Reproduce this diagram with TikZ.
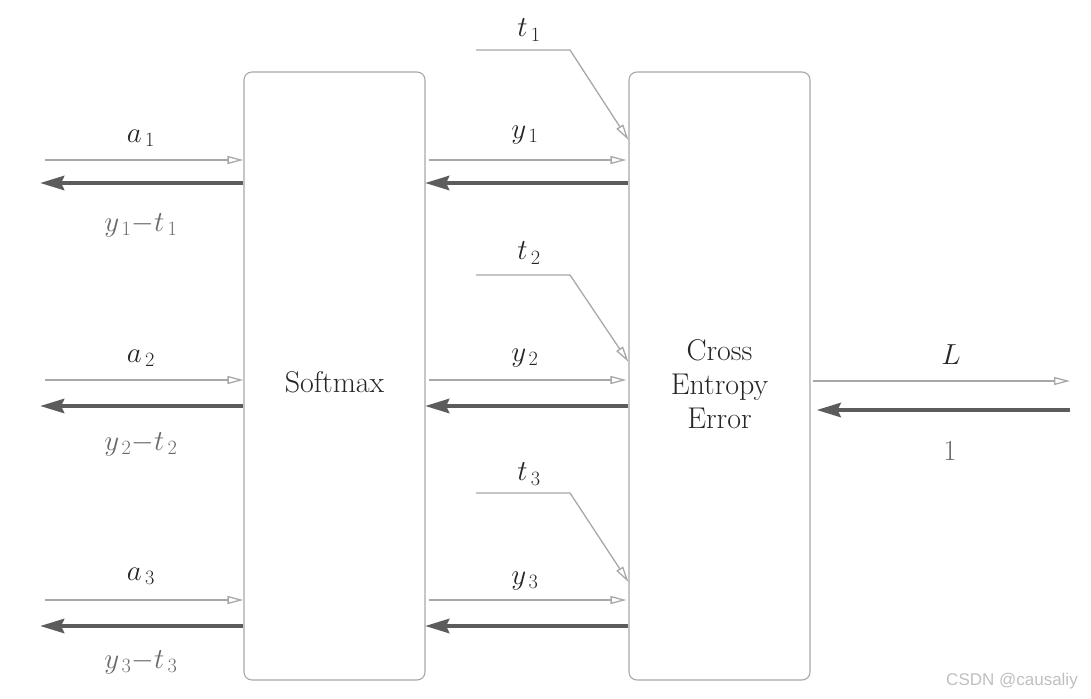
\RequirePackage{fix-cm}
\documentclass[tikz,border=0pt]{standalone}
\usepackage{fontspec}
\newfontfamily\wmfont{Liberation Sans}
\usetikzlibrary{arrows.meta}
\definecolor{thin}{HTML}{A8A8A8}
\definecolor{thick}{HTML}{5C5C5C}
\definecolor{lbl}{HTML}{6A6A6A}
\begin{document}
\begin{tikzpicture}[x=1pt,y=-1pt,
  box/.style={draw=thin,line width=1.1pt,rounded corners=8pt,minimum width=181pt,minimum height=608pt,inner sep=0pt},
  boxtext/.style={align=center,font=\fontsize{30}{34}\selectfont,text=black!85,inner sep=0pt},
  fwd/.style={draw=thin,line width=1.3pt,-{Triangle[open,length=16pt,width=8pt]}},
  bwd/.style={draw=thick,line width=4.5pt,-{Stealth[length=24pt,width=14pt,inset=3pt]}},
  lab/.style={font=\fontsize{29}{32}\selectfont,text=black!85},
  glab/.style={font=\fontsize{29}{32}\selectfont,text=lbl}]
\useasboundingbox (0,0) rectangle (1091,698);
\node[box] (sm) at (334.5,376) {};
\node[box] (ce) at (719.5,376) {};
\node[boxtext] (smt) at (334.5,382) {Softmax};
\node[boxtext] (cet) at (719.5,384) {Cross\\Entropy\\Error};
% left side
\foreach \i/\yf/\yb in {1/160/183,2/380/406,3/600/626}{
  \coordinate (li\i) at (45,\yf);
  \coordinate (lo\i) at (40,\yb);
  \draw[fwd] (li\i) -- (sm.west |- li\i);
  \draw[bwd] (sm.west |- lo\i) -- (lo\i);
  \coordinate (mi\i) at (429,\yf);
  \draw[fwd] (mi\i) -- ([xshift=-2pt]ce.west |- mi\i);
  \coordinate (mo\i) at (425,\yb);
  \draw[bwd] (ce.west |- mo\i) -- (mo\i);
}
\node[lab] (a1) at (141,138) {$a_{\,1}$};
\node[glab] (e1) at (141,225) {$y_{\,1}{-}t_{\,1}$};
\node[lab] (a2) at (141,358) {$a_{\,2}$};
\node[glab] (e2) at (141,444) {$y_{\,2}{-}t_{\,2}$};
\node[lab] (a3) at (141,576) {$a_{\,3}$};
\node[glab] (e3) at (141,662) {$y_{\,3}{-}t_{\,3}$};
\node[lab] (y1) at (525,135) {$y_{\,1}$};
\node[lab] (y2) at (525,358) {$y_{\,2}$};
\node[lab] (y3) at (525,581) {$y_{\,3}$};
% targets
\foreach \i/\ya/\yb in {1/50/140,2/275/362,3/493/582}{
  \coordinate (ts\i) at (476,\ya);
  \coordinate (tk\i) at (570,\ya);
  \draw[fwd] (ts\i) -- (tk\i) -- (ce.west |- 0,\yb);
}
\node[lab] (t1) at (529,30) {$t_{\,1}$};
\node[lab] (t2) at (529,253) {$t_{\,2}$};
\node[lab] (t3) at (529,474) {$t_{\,3}$};
% right side
\coordinate (ro) at (1070,381);
\coordinate (ri) at (1070,410);
\draw[fwd] ([xshift=2pt]ce.east |- ro) -- (ro);
\draw[bwd] (ri) -- ([xshift=6pt]ce.east |- ri);
\node[lab] (L) at (951,355) {$L$};
\node[glab] (one) at (950,451) {1};
\node[text=black!25,font=\wmfont\fontsize{17}{19}\selectfont,inner sep=0pt] (wm) at (1012,681) {CSDN @causaliy};
\end{tikzpicture}
\end{document}
